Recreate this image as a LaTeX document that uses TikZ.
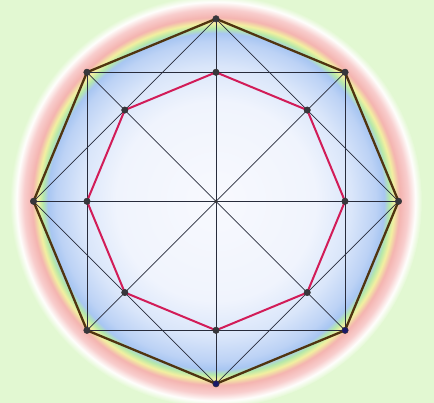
\documentclass[tikz,border=0pt]{standalone}
\definecolor{bg}{RGB}{226,248,210}
\definecolor{c0}{RGB}{248,249,254}
\definecolor{c1}{RGB}{240,244,253}
\definecolor{c2}{RGB}{218,230,250}
\definecolor{c3}{RGB}{188,210,245}
\definecolor{c4}{RGB}{168,198,242}
\definecolor{cg}{RGB}{180,232,170}
\definecolor{cy}{RGB}{242,240,160}
\definecolor{cr}{RGB}{244,180,176}
\definecolor{cp}{RGB}{248,205,205}
\definecolor{cw}{RGB}{254,254,252}
\definecolor{linec}{RGB}{40,44,60}
\definecolor{outerc}{RGB}{80,52,16}
\definecolor{innerc}{RGB}{210,28,88}
\definecolor{dotc}{RGB}{55,55,60}
\definecolor{dotb}{RGB}{25,25,105}
\pgfdeclareradialshading{rainbow}{\pgfpoint{0bp}{0bp}}{%
color(0bp)=(c0); color(12.1bp)=(c1); color(16.4bp)=(c2); color(19.4bp)=(c3);
color(20.4bp)=(c4); color(21.0bp)=(cg); color(21.6bp)=(cy); color(22.3bp)=(cr);
color(23.3bp)=(cp); color(24.2bp)=(cw); color(25bp)=(bg); color(50bp)=(bg)}
\begin{document}
\begin{tikzpicture}[x=1pt,y=1pt,
  thinline/.style={draw=linec, line width=0.75pt},
  outerpoly/.style={draw=outerc, line width=2.3pt, line join=round},
  innerpoly/.style={draw=innerc, line width=2pt, line join=round},
  dot/.style={circle, fill=dotc, draw=black!80, line width=0.4pt, inner sep=0pt, minimum size=6.5pt},
  bluedot/.style={dot, fill=dotb}]
\fill[bg] (-216,-201.7) rectangle (218,201.3);
\useasboundingbox (-216,-201.7) rectangle (218,201.3);
\shade[shading=rainbow] (0,0) circle (206);
\coordinate (C) at (0,0);
\foreach \i in {0,...,7} {
  \coordinate (O\i) at ({90-45*\i}:182.5);
  \coordinate (I\i) at ({90-45*\i}:129);
}
% construction lines
\draw[thinline] (O1) -- (O3) -- (O5) -- (O7) -- cycle;
\draw[thinline] (O0) -- (O2) -- (O4) -- (O6) -- cycle;
\draw[thinline] (O0) -- (O4);
\draw[thinline] (O2) -- (O6);
\draw[thinline] (O1) -- (O5);
\draw[thinline] (O3) -- (O7);
% polygons
\draw[innerpoly] (I0) -- (I1) -- (I2) -- (I3) -- (I4) -- (I5) -- (I6) -- (I7) -- cycle;
\draw[outerpoly] (O0) -- (O1) -- (O2) -- (O3) -- (O4) -- (O5) -- (O6) -- (O7) -- cycle;
% dots
\foreach \i in {0,1,2,5,6,7} \node[dot] (dO\i) at (O\i) {};
\node[bluedot] (dO3) at (O3) {};
\node[bluedot] (dO4) at (O4) {};
\foreach \i in {0,...,7} \node[dot] (dI\i) at (I\i) {};
\node[dot, minimum size=3pt] (dC) at (C) {};
\end{tikzpicture}
\end{document}
